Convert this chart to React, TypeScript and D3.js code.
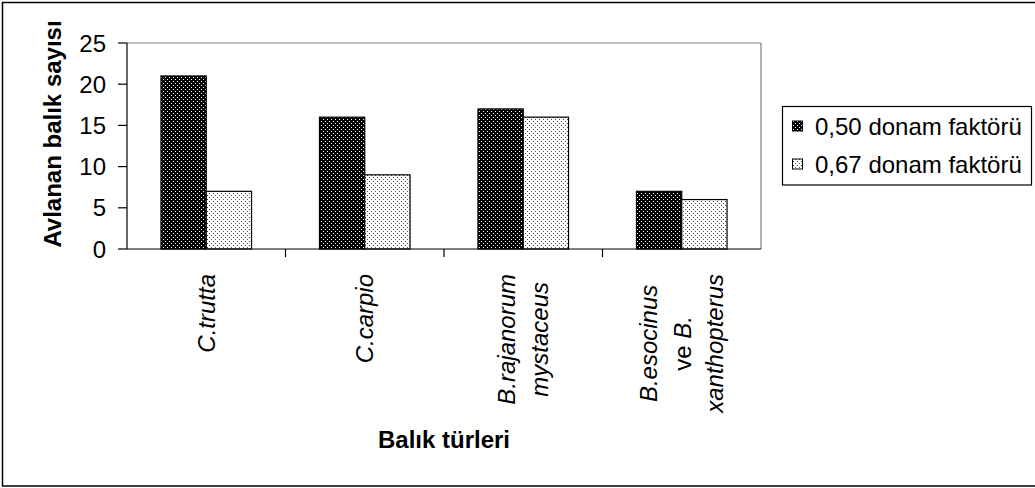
import React from "react";
import * as d3 from "d3";

const categories = ["C.trutta", "C.carpio", "B.rajanorum\nmystaceus", "B.esocinus\nve B.\nxanthopterus"];
const seriesNames = ["0,50 donam faktörü", "0,67 donam faktörü"];
const series050 = [21, 16, 17, 7];
const series067 = [7, 9, 16, 6];
const yTicks = [0, 5, 10, 15, 20, 25];
const yTitle = "Avlanan balık sayısı";
const xTitle = "Balık türleri";

const FONT = "'Liberation Sans', Arial, Helvetica, sans-serif";
const FS = 24;

function measure(text: string, font: string): number {
  try {
    const c = document.createElement("canvas");
    const ctx = c.getContext("2d");
    if (ctx) {
      ctx.font = font;
      return ctx.measureText(text).width;
    }
  } catch (e) {}
  return text.length * 11;
}

export default function App() {
  const W = 1035, H = 488;
  const left = 127, right = 761, top = 43, bottom = 249;

  const x = d3.scaleBand<string>().domain(categories).range([left, right]).paddingInner(0).paddingOuter(0);
  const inner = d3.scaleBand<number>().domain([0, 1]).range([0, x.bandwidth()]).paddingInner(0).paddingOuter(0.75);
  const y = d3.scaleLinear().domain([0, 25]).range([bottom, top]);

  const seriesData = [series050, series067];
  const fills = ["url(#patDark)", "url(#patLight)"];

  const labelFont = `italic ${FS}px ${FONT}`;
  const lineGap = 33;
  const labelTop = 274;

  return (
    <svg width={W} height={H} style={{ position: "absolute", left: 0, top: 0, background: "#fff" }} fontFamily={FONT}>
      <defs>
        <pattern id="patDark" width="4" height="4" patternUnits="userSpaceOnUse">
          <rect width="4" height="4" fill="#000" />
          <rect x="1" y="1" width="1" height="1" fill="#ffffff" />
          <rect x="3" y="3" width="1" height="1" fill="#ffffff" />
        </pattern>
        <pattern id="patLight" width="4" height="4" patternUnits="userSpaceOnUse">
          <rect width="4" height="4" fill="#fff" />
          <rect x="1" y="1" width="1" height="1" fill="#444" />
          <rect x="3" y="3" width="1" height="1" fill="#444" />
        </pattern>
      </defs>
      <rect x={0} y={0} width={W} height={H} fill="#fff" />
      {/* outer chart border */}
      <rect x={2.5} y={2.5} width={W + 10} height={483.5} fill="none" stroke="#000" strokeWidth={1.5} />

      {/* plot area frame */}
      <line x1={left} x2={right} y1={top} y2={top} stroke="#808080" strokeWidth={1.2} />
      <line x1={right} x2={right} y1={top} y2={bottom} stroke="#808080" strokeWidth={1.2} />

      {/* bars */}
      {categories.map((c, i) =>
        seriesData.map((s, k) => (
          <rect
            key={`${i}-${k}`}
            x={(x(c) as number) + (inner(k) as number)}
            y={y(s[i])}
            width={inner.bandwidth()}
            height={y(0) - y(s[i])}
            fill={fills[k]}
            stroke="#000"
            strokeWidth={1.2}
          />
        ))
      )}

      {/* y axis */}
      <line x1={left} x2={left} y1={top} y2={bottom} stroke="#000" strokeWidth={1.2} />
      {yTicks.map((t) => (
        <g key={t}>
          <line x1={left - 9} x2={left} y1={y(t)} y2={y(t)} stroke="#000" strokeWidth={1.2} />
          <text x={106} y={y(t)} textAnchor="end" dominantBaseline="central" fontSize={FS} fill="#000">
            {t}
          </text>
        </g>
      ))}

      {/* x axis */}
      <line x1={left} x2={right} y1={bottom} y2={bottom} stroke="#000" strokeWidth={1.2} />
      {categories.map((c, i) => {
        const xs = (x(c) as number) + x.bandwidth();
        return i < categories.length - 1 ? (
          <line key={c} x1={xs} x2={xs} y1={bottom} y2={bottom + 8} stroke="#000" strokeWidth={1.2} />
        ) : null;
      })}

      {/* category labels */}
      {categories.map((c) => {
        const lines = c.split("\n");
        const maxLen = Math.max(...lines.map((l) => measure(l, labelFont)));
        const cx = (x(c) as number) + x.bandwidth() / 2;
        const cy = labelTop + maxLen / 2;
        return lines.map((l, j) => {
          const lx = cx + (j - (lines.length - 1) / 2) * lineGap;
          const isVe = l.startsWith("ve ");
          return (
            <text
              key={c + j}
              transform={`translate(${lx},${cy}) rotate(-90)`}
              textAnchor="middle"
              dominantBaseline="central"
              fontSize={FS}
              fontStyle="italic"
              fill="#000"
            >
              {isVe ? (
                <>
                  <tspan fontStyle="normal">ve </tspan>
                  <tspan fontStyle="italic">{l.slice(3)}</tspan>
                </>
              ) : (
                l
              )}
            </text>
          );
        });
      })}

      {/* axis titles */}
      <text
        transform={`translate(61,134) rotate(-90)`}
        textAnchor="middle"
        fontSize={FS}
        fontWeight="bold"
        fill="#000"
      >
        {yTitle}
      </text>
      <text x={(left + right) / 2} y={448} textAnchor="middle" fontSize={FS} fontWeight="bold" fill="#000">
        {xTitle}
      </text>

      {/* legend */}
      <rect x={782.5} y={106.5} width={249} height={78.5} fill="#fff" stroke="#000" strokeWidth={1.2} />
      {seriesNames.map((n, k) => {
        const cyL = 126 + k * 38;
        return (
          <g key={n}>
            <rect x={792.5} y={cyL - 5} width={10} height={10} fill={fills[k]} stroke="#000" strokeWidth={1} />
            <text x={815} y={cyL} dominantBaseline="central" fontSize={FS} fill="#000">
              {n}
            </text>
          </g>
        );
      })}
    </svg>
  );
}
